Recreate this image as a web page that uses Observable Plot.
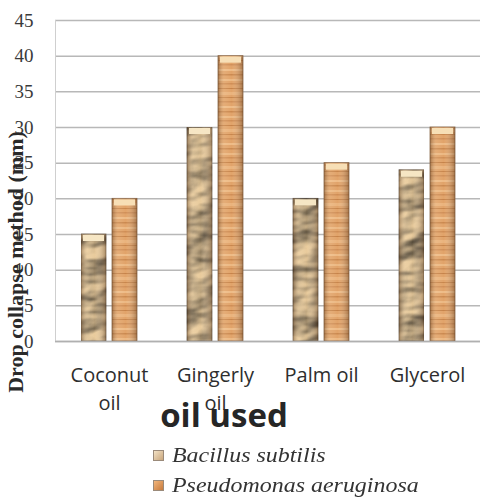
<!DOCTYPE html>
<html>
<head>
<meta charset="utf-8">
<script src="https://cdn.jsdelivr.net/npm/d3@7"></script>
<script src="https://cdn.jsdelivr.net/npm/@observablehq/plot@0.6"></script>
<style>
  body { margin: 0; background: #fff; }
  #chart svg { display: block; overflow: visible; }
  .legend { font-family: "Liberation Serif", "Times New Roman", serif; font-style: italic; font-size: 21px; color: #333; padding-left: 153px; }
  .legend div { height: 30px; line-height: 30px; display: flex; align-items: center; }
  .legend .t { display: inline-block; transform: scaleX(1.14); transform-origin: left center; }
  .sw { width: 11px; height: 11px; margin-right: 8px; border: 1px solid #9a8a7a; box-sizing: border-box; }
</style>
</head>
<body>
<div id="chart"></div>
<div class="legend">
  <div><span class="sw" style="background: linear-gradient(135deg,#f3e2c6,#c9a67c)"></span><span class="t">Bacillus subtilis</span></div>
  <div><span class="sw" style="background: linear-gradient(135deg,#f2b67c,#c77a3c)"></span><span class="t">Pseudomonas aeruginosa</span></div>
</div>
<script>
const oils = ["Coconut oil", "Gingerly oil", "Palm oil", "Glycerol"];
const tickLabels = ["Coconut\noil", "Gingerly\noil", "Palm oil", "Glycerol"];
const bacillus = [15, 30, 20, 24];
const pseudomonas = [20, 40, 25, 30];
const yTicks = [0, 5, 10, 15, 20, 25, 30, 35, 40, 45];
const seriesNames = ["Bacillus subtilis", "Pseudomonas aeruginosa"];

const bData = oils.map((o, i) => ({oil: o, value: bacillus[i], series: seriesNames[0]}));
const pData = oils.map((o, i) => ({oil: o, value: pseudomonas[i], series: seriesNames[1]}));

const BAC_FILL = "#e9cb9c";
const inner = 31;

const plot = Plot.plot({
  width: 480,
  height: 440,
  marginLeft: 55,
  marginRight: 0,
  marginTop: 20,
  marginBottom: 99,
  x: {domain: oils, paddingInner: 0.473, paddingOuter: 0.2365},
  y: {domain: [0, 45]},
  marks: [
    Plot.ruleY(yTicks, {stroke: "#b8b8b8", strokeWidth: 1.5}),
    Plot.frame({anchor: "left", stroke: "#cfcfcf", strokeWidth: 1}),
    Plot.barY(bData, {x: "oil", y: "value", fill: BAC_FILL, insetRight: inner, stroke: "#8c7a66", strokeWidth: 0.8}),
    Plot.barY(bData, {x: "oil", y: "value", fill: "url(#shade)", insetRight: inner}),
    Plot.barY(pData, {x: "oil", y: "value", fill: "url(#stripes)", insetLeft: inner, stroke: "#8c6a4c", strokeWidth: 0.8}),
    Plot.barY(pData, {x: "oil", y: "value", fill: "url(#shade)", insetLeft: inner}),
    Plot.tickY(bData, {x: "oil", y: "value", stroke: "#f6e6c4", strokeWidth: 6, dy: 3.5, insetRight: inner + 2, insetLeft: 2}),
    Plot.tickY(pData, {x: "oil", y: "value", stroke: "#f7dfb6", strokeWidth: 6, dy: 3.5, insetLeft: inner + 2, insetRight: 2}),
    Plot.axisY({ticks: yTicks, tickSize: 0, tickPadding: 22, fontSize: 19, fontFamily: "Liberation Serif", fill: "#3a3a3a", label: null}),
    Plot.axisX({tickSize: 0, tickPadding: 21, fontSize: 20, fontFamily: "Open Sans", fill: "#2e2e2e", lineHeight: 1.4, tickFormat: (d) => tickLabels[oils.indexOf(d)], label: null}),
    Plot.ruleY([0], {stroke: "#b0b0b0", strokeWidth: 1.5}),
    Plot.text(["oil used"], {frameAnchor: "bottom", dx: -44, dy: 85, fontSize: 33, fontWeight: "bold", fontFamily: "Open Sans", fill: "#262626"}),
    Plot.text(["Drop collapse method (mm)"], {frameAnchor: "left", textAnchor: "middle", rotate: -90, dx: -40, dy: 81, fontSize: 22, fontWeight: "bold", fontFamily: "Liberation Serif", fill: "#2a2a2a"})
  ]
});

const svg = plot.tagName.toLowerCase() === "svg" ? plot : plot.querySelector("svg");
const defs = document.createElementNS("http://www.w3.org/2000/svg", "defs");
defs.innerHTML = `
  <linearGradient id="shade" x1="0" x2="1" y1="0" y2="0">
    <stop offset="0" stop-color="#4a2a10" stop-opacity="0.4"/>
    <stop offset="0.25" stop-color="#fff2dc" stop-opacity="0.12"/>
    <stop offset="0.55" stop-color="#ffffff" stop-opacity="0"/>
    <stop offset="1" stop-color="#4a2a10" stop-opacity="0.4"/>
  </linearGradient>
  <pattern id="stripes" patternUnits="userSpaceOnUse" width="100" height="37">
    <rect width="100" height="37" fill="#e1a369"/>
    <rect y="0" width="100" height="1.5" fill="#cb894f"/>
    <rect y="5" width="100" height="2" fill="#ecb882"/>
    <rect y="9" width="100" height="1.5" fill="#d08e55"/>
    <rect y="14" width="100" height="1" fill="#c68349"/>
    <rect y="18" width="100" height="3" fill="#eab37c"/>
    <rect y="23" width="100" height="1" fill="#c8864c"/>
    <rect y="27" width="100" height="1.5" fill="#d19058"/>
    <rect y="32" width="100" height="2" fill="#eebb86"/>
  </pattern>
  <filter id="crumple" x="0" y="0" width="1" height="1" color-interpolation-filters="sRGB">
    <feTurbulence type="fractalNoise" baseFrequency="0.022 0.04" numOctaves="3" seed="11" result="noise"/>
    <feDiffuseLighting in="noise" lighting-color="#ffffff" surfaceScale="5" diffuseConstant="1.2" result="light">
      <feDistantLight azimuth="225" elevation="42"/>
    </feDiffuseLighting>
    <feComposite in="light" in2="SourceGraphic" operator="arithmetic" k1="1" k2="0" k3="0" k4="0"/>
  </filter>`;
svg.insertBefore(defs, svg.firstChild);
svg.querySelectorAll(`g[fill="${BAC_FILL}"]`).forEach(g => g.setAttribute("filter", "url(#crumple)"));
document.getElementById("chart").appendChild(plot);
</script>
</body>
</html>
